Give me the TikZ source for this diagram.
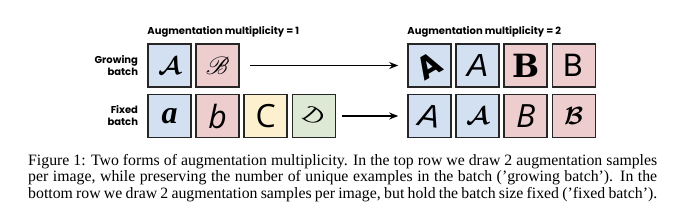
\documentclass[tikz,border=0pt]{standalone}
\usepackage{fontspec}
\setmainfont{Liberation Serif}
\setsansfont{Liberation Sans}
\newfontfamily\labelfont{Poppins}
\newfontfamily\slabfont{DejaVu Serif}
\newfontfamily\thinfont{Open Sans}
\usepackage{amsmath,amssymb,bm}
\usepackage{mathrsfs}
\definecolor{imgblue}{RGB}{211,224,241}
\definecolor{imgred}{RGB}{238,205,206}
\definecolor{imgyellow}{RGB}{253,240,206}
\definecolor{imggreen}{RGB}{221,233,213}
\definecolor{tileline}{RGB}{38,38,38}
\usetikzlibrary{arrows.meta,positioning}

\begin{document}
\begin{tikzpicture}[
  x=1pt, y=-1pt,
  node distance=3.5pt,
  tile/.style={rectangle, draw=tileline, line width=1.6pt, minimum size=43pt, inner sep=0pt, font=\fontsize{32}{32}\selectfont},
  rowlabel/.style={font=\labelfont\bfseries\fontsize{10}{12}\selectfont, align=right, inner sep=0pt},
  heading/.style={font=\labelfont\bfseries\fontsize{10}{10}\selectfont, inner sep=0pt},
  arrow/.style={-{Stealth[length=9pt, width=7pt]}, line width=1.4pt},
  capline/.style={font=\fontsize{15.8}{17}\selectfont, inner sep=0pt, anchor=base west},
]
\useasboundingbox (0,0) rectangle (680,217);

% Growing batch, multiplicity 1
\node[tile, fill=imgblue] (ga) at (169.5,65.5) {$\bm{\mathcal{A}}$};
\node[tile, fill=imgred, right=of ga] (gb) {$\bm{\mathscr{B}}$};

% Fixed batch, multiplicity 1
\node[tile, fill=imgblue] (fa) at (169.5,116) {\textbf{\textit{a}}};
\node[tile, fill=imgred, right=of fa] (fb) {\thinfont\itshape b};
\node[tile, fill=imgyellow, right=of fb] (fc) {\thinfont C};
\node[tile, fill=imggreen, right=of fc] (fd) {\rotatebox{-35}{$\mathcal{D}$}};

% Growing batch, multiplicity 2
\node[tile, fill=imgblue] (ra) at (429.5,65.5) {\rotatebox{30}{\labelfont\bfseries A}};
\node[tile, fill=imgblue, right=of ra] (rb) {\sffamily\itshape A};
\node[tile, fill=imgred, right=of rb] (rc) {\slabfont\bfseries B};
\node[tile, fill=imgred, right=of rc] (rd) {\labelfont B};

% Fixed batch, multiplicity 2
\node[tile, fill=imgblue] (sa) at (429.5,116) {\rotatebox{-8}{\sffamily\itshape A}};
\node[tile, fill=imgblue, right=of sa] (sb) {$\bm{\mathcal{A}}$};
\node[tile, fill=imgred, right=of sb] (sc) {\thinfont\itshape B};
\node[tile, fill=imgred, right=of sc] (sd) {$\bm{\mathcal{B}}$};

% Row labels
\node[rowlabel, left=9pt of ga] (grow) {Growing\\batch};
\node[rowlabel, left=9pt of fa] (fix) {Fixed\\batch};

% Headings
\node[heading, anchor=base west] (mone) at ([yshift=9pt]ga.north west) {Augmentation multiplicity = 1};
\node[heading, anchor=base west] (mtwo) at ([yshift=9pt]ra.north west) {Augmentation multiplicity = 2};

% Arrows
\draw[arrow, shorten <=10pt, shorten >=9pt] (gb.east) -- (ra.west);
\draw[arrow, shorten <=6pt, shorten >=9pt] (fd.east) -- (sa.west);

% Caption
\node[capline] (capa) at (28,165) {\makebox[629pt][s]{Figure 1: Two forms of augmentation multiplicity. In the top row we draw 2 augmentation samples}};
\node[capline] (capb) at (28,181.5) {\makebox[629pt][s]{per image, while preserving the number of unique examples in the batch ('growing batch'). In the}};
\node[capline] (capc) at (28,198) {\makebox[629pt][s]{bottom row we draw 2 augmentation samples per image, but hold the batch size fixed ('fixed batch').}};

\end{tikzpicture}
\end{document}
